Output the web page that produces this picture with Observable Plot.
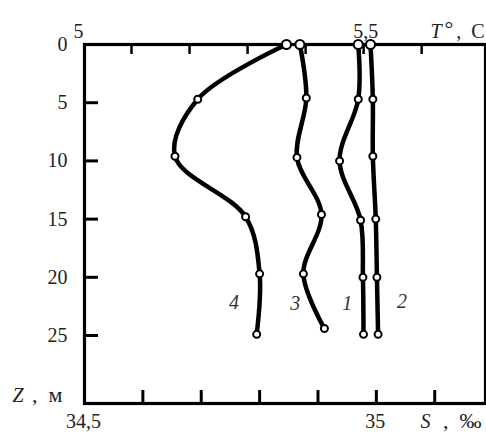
<!DOCTYPE html>
<html>
<head>
<meta charset="utf-8">
<script src="https://cdn.jsdelivr.net/npm/d3@7"></script>
<script src="https://cdn.jsdelivr.net/npm/@observablehq/plot@0.6"></script>
<style>
  html, body { margin: 0; padding: 0; background: #fff; }
  #chart { width: 486px; height: 439px; }
</style>
</head>
<body>
<div id="chart"></div>
<script>
// ---- data ----
const curveNames = ["1", "2", "3", "4"];
const depth1 = [0, 4.7, 10.0, 15.1, 20.0, 24.9];
const depth2 = [0, 4.7, 9.6, 15.0, 20.0, 24.9];
const depth3 = [0, 4.6, 9.7, 14.6, 19.7, 24.4];
const depth4 = [0, 4.7, 9.6, 14.8, 19.7, 24.9];
const sal1 = [34.969, 34.969, 34.937, 34.973, 34.977, 34.978];
const sal2 = [34.990, 34.994, 34.994, 34.999, 35.001, 35.003];
const sal3 = [34.869, 34.880, 34.864, 34.906, 34.875, 34.911];
const sal4 = [34.846, 34.694, 34.655, 34.776, 34.800, 34.795];

const curveLabelS = [34.950, 35.044, 34.861, 34.756];
const curveLabelZ = [22.3, 22.1, 22.3, 22.2];

const zTicks = [0, 5, 10, 15, 20, 25];
const sTicks = [34.6, 34.7, 34.8, 34.9, 35.0, 35.1];
const sLabelValues = [34.5, 35];
const sLabelTexts = ["34,5", "35"];
const tTicks = [5.1, 5.2, 5.3, 5.4, 5.5, 5.6];
const tLabelValues = [5, 5.5];
const tLabelTexts = ["5", "5,5"];

const sDomain = [34.5, 35.187];
const tDomain = [5.019, 5.710];
const zDomain = [0, 30.84];

// ---- build table ----
const depths = [depth1, depth2, depth3, depth4];
const sals = [sal1, sal2, sal3, sal4];
const rows = [];
curveNames.forEach((c, i) => depths[i].forEach((z, j) => rows.push({curve: c, s: sals[i][j], z, top: z === 0})));
const labels = curveNames.map((c, i) => ({t: c, s: curveLabelS[i], z: curveLabelZ[i]}));

// map temperature onto the salinity (bottom) scale so both share the frame
const tToS = d3.scaleLinear(tDomain, sDomain);

const W = 486, H = 439;
const mL = 84, mR = 1, mT = 44, mB = 36;
const innerW = W - mL - mR, innerH = H - mT - mB;
const font = "'Liberation Serif', 'Times New Roman', serif";
const fs = 20;

const chart = Plot.plot({
  width: W, height: H,
  marginLeft: mL, marginRight: mR, marginTop: mT, marginBottom: mB,
  style: {fontFamily: font, fontSize: fs + "px", background: "#fff", color: "#000"},
  x: {domain: sDomain, axis: null},
  y: {domain: zDomain, reverse: true, axis: null},
  r: {type: "identity"},
  marks: [
    // inward ticks
    Plot.tickY(zTicks.filter(d => d !== 0), {y: d => d, stroke: "#000", strokeWidth: 3, insetRight: innerW - 14}),
    Plot.tickX(sTicks, {x: d => d, stroke: "#000", strokeWidth: 3, insetTop: innerH - 13}),
    Plot.tickX(tTicks, {x: d => tToS(d), stroke: "#000", strokeWidth: 2.5, insetBottom: innerH - 10}),
    Plot.frame({stroke: "#000", strokeWidth: 3.2}),
    // profiles
    Plot.line(rows, {x: "s", y: "z", z: "curve", curve: "catmull-rom", stroke: "#000", strokeWidth: 4.5, strokeLinejoin: "round"}),
    Plot.dot(rows, {x: "s", y: "z", r: d => d.top ? 4.5 : 3.5, fill: "#fff", stroke: "#000", strokeWidth: 2}),
    // curve numbers
    Plot.text(labels, {x: "s", y: "z", text: "t", fontStyle: "italic", fontSize: fs, fill: "#333"}),
    // left tick labels
    Plot.text(zTicks, {y: d => d, text: d => String(d), frameAnchor: "left", textAnchor: "end", dx: -17, fontSize: fs, fill: "#222"}),
    // bottom labels
    Plot.text(sLabelValues, {x: d => d, text: (d, i) => sLabelTexts[i], frameAnchor: "bottom", dy: 24, dx: -1, fontSize: fs, fill: "#222"}),
    // top labels
    Plot.text([tLabelValues[0]], {x: d => tToS(d), text: () => tLabelTexts[0], frameAnchor: "top", textAnchor: "start", dy: -21, fontSize: fs, fill: "#222"}),
    Plot.text([tLabelValues[1]], {x: d => tToS(d), text: () => tLabelTexts[1], frameAnchor: "top", dy: -21, dx: 2, fontSize: fs, fill: "#222"}),
    // axis titles
    Plot.text(["T"], {text: d => d, frameAnchor: "top-right", textAnchor: "start", dx: -55, dy: -21, fontStyle: "italic", fontSize: fs, fill: "#222"}),
    Plot.text(["°"], {text: d => d, frameAnchor: "top-right", textAnchor: "start", dx: -41, dy: -24, fontSize: 22, fill: "#222"}),
    Plot.text([",\u2002C"], {text: d => d, frameAnchor: "top-right", textAnchor: "end", dx: -1, dy: -21, fontSize: fs, fill: "#222"}),
    Plot.text(["S"], {text: d => d, frameAnchor: "bottom-right", textAnchor: "start", dx: -65, dy: 24, fontStyle: "italic", fontSize: fs, fill: "#222"}),
    Plot.text([",\u2002‰"], {text: d => d, frameAnchor: "bottom-right", textAnchor: "end", dx: -4, dy: 24, fontSize: 22, fill: "#222"}),
    Plot.text(["Z"], {text: d => d, frameAnchor: "bottom-left", textAnchor: "start", dx: -72, dy: -2, fontStyle: "italic", fontSize: fs, fill: "#222"}),
    Plot.text([",\u2002м"], {text: d => d, frameAnchor: "bottom-left", textAnchor: "end", dx: -22, dy: -2, fontSize: 22, fill: "#222"})
  ]
});
document.getElementById("chart").appendChild(chart);
</script>
</body>
</html>
